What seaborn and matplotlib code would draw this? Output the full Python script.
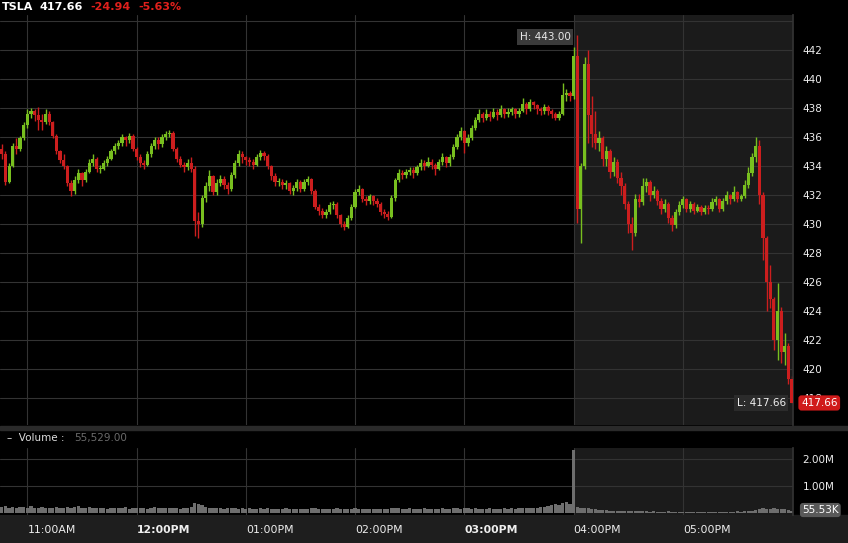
import numpy as np
import pandas as pd
import seaborn as sns
import matplotlib
matplotlib.use('Agg')
import matplotlib.pyplot as plt
from matplotlib.patches import Rectangle
from matplotlib.transforms import blended_transform_factory

# header values
ticker = 'TSLA'
last_price = 417.66
change = '-24.94'
change_pct = '-5.63%'
day_high = 443.00
day_low = 417.66
volume_now = '55,529.00'
volume_badge = '55.53K'

# 2-minute candles from 10:45 to 18:00 (regular session ends at 16:00)
first_open = 435.2
close = [
    434.8, 432.9, 434.0, 435.4, 435.2, 435.9, 436.8, 437.6, 437.8, 437.5,
    437.2, 437.0, 437.6, 437.0, 436.1, 435.0, 434.4, 434.0, 432.8, 432.3,
    433.0, 433.5, 433.0, 433.6, 434.2, 434.5, 433.8, 433.8, 434.2, 434.5,
    435.0, 435.4, 435.6, 436.0, 435.8, 436.1, 435.2, 434.6, 434.2, 434.1,
    434.8, 435.4, 435.8, 435.5, 436.0, 436.2, 436.3, 435.2, 434.5, 434.1,
    433.9, 434.2, 433.8, 430.2, 430.0, 431.8, 432.6, 433.3, 432.2, 432.8,
    433.1, 432.7, 432.4, 433.4, 434.2, 434.8, 434.6, 434.4, 434.3, 434.1,
    434.6, 434.9, 434.7, 434.0, 433.3, 432.9, 432.9, 432.7, 432.8, 432.3,
    432.5, 432.9, 432.4, 432.9, 433.1, 432.3, 431.2, 430.9, 430.6, 430.8,
    431.3, 431.4, 430.6, 430.0, 429.8, 430.4, 431.2, 432.2, 432.4, 431.7,
    431.6, 431.9, 431.6, 431.4, 430.8, 430.7, 430.5, 431.8, 433.0, 433.5,
    433.4, 433.6, 433.7, 433.5, 433.9, 434.2, 434.0, 434.3, 434.1, 433.8,
    434.3, 434.6, 434.2, 434.6, 435.3, 436.0, 436.4, 435.6, 435.9, 436.6,
    437.2, 437.6, 437.3, 437.6, 437.4, 437.7, 437.5, 437.9, 437.6, 437.7,
    437.9, 437.6, 437.8, 438.3, 437.9, 438.4, 438.2, 437.9, 437.8, 438.1,
    437.8, 437.6, 437.3, 437.6, 438.9, 439.0, 438.8, 441.6, 431.0, 434.0,
    441.0, 437.5, 436.2, 435.6, 435.9, 434.5, 435.0, 433.6, 434.3, 433.2,
    432.6, 431.4, 430.0, 429.4, 431.7, 431.5, 432.6, 432.9, 432.0, 432.3,
    431.6, 431.0, 431.4, 430.4, 429.9, 430.8, 431.3, 431.7, 431.0, 431.4,
    430.9, 431.2, 430.8, 431.1, 431.0, 431.5, 431.7, 431.0, 431.6, 432.0,
    431.7, 432.2, 431.7, 431.9, 432.7, 433.5, 434.6, 435.4, 432.0, 429.0,
    426.0, 424.8, 422.0, 424.0, 421.2, 421.6, 419.3, 417.66,
]
high = [
    435.5, 435.0, 434.2, 435.6, 435.9, 436.1, 437.0, 437.9, 438.0, 437.9,
    438.1, 437.6, 437.9, 437.8, 437.1, 436.2, 435.1, 434.8, 434.1, 433.0,
    433.3, 433.8, 433.6, 433.8, 434.5, 434.8, 434.6, 434.1, 434.4, 434.7,
    435.2, 435.6, 435.8, 436.2, 436.1, 436.3, 436.2, 435.3, 434.8, 434.4,
    435.0, 435.6, 436.0, 436.0, 436.2, 436.4, 436.5, 436.4, 435.3, 434.7,
    434.3, 434.5, 434.6, 434.0, 430.8, 432.0, 432.9, 433.7, 433.4, 433.1,
    433.4, 433.3, 432.9, 433.6, 434.4, 435.1, 435.0, 434.7, 434.6, 434.5,
    434.8, 435.1, 435.0, 434.8, 434.1, 433.5, 433.2, 433.1, 433.0, 432.9,
    432.7, 433.1, 433.0, 433.1, 433.3, 433.2, 432.4, 431.4, 431.1, 431.0,
    431.5, 431.6, 431.5, 430.7, 430.2, 430.6, 431.4, 432.4, 432.7, 432.5,
    431.9, 432.1, 432.0, 431.8, 431.5, 431.0, 430.9, 432.0, 433.2, 433.8,
    433.7, 433.8, 433.9, 433.9, 434.1, 434.5, 434.4, 434.6, 434.5, 434.2,
    434.5, 434.9, 434.7, 434.8, 435.5, 436.2, 436.7, 436.5, 436.2, 436.8,
    437.4, 437.9, 437.7, 437.9, 437.8, 438.0, 437.9, 438.2, 438.0, 438.0,
    438.1, 438.0, 438.0, 438.7, 438.4, 438.6, 438.5, 438.3, 438.1, 438.3,
    438.2, 437.9, 437.7, 437.8, 439.7, 439.3, 439.2, 442.2, 443.0, 434.2,
    441.5, 442.0, 438.8, 437.8, 436.4, 436.1, 435.4, 435.2, 434.6, 434.5,
    433.6, 432.8, 431.6, 430.5, 432.1, 432.1, 433.2, 433.2, 433.0, 432.6,
    432.4, 431.8, 431.7, 431.5, 430.6, 431.0, 431.6, 431.9, 431.8, 431.6,
    431.5, 431.4, 431.3, 431.3, 431.3, 431.8, 431.9, 431.8, 431.8, 432.3,
    432.1, 432.6, 432.3, 432.1, 433.0, 433.9, 434.9, 436.0, 435.8, 432.2,
    429.2, 427.2, 425.0, 425.9, 424.3, 422.5, 421.8, 419.5,
]
low = [
    434.5, 432.7, 432.8, 433.9, 434.8, 435.0, 435.8, 436.6, 437.3, 437.1,
    436.5, 436.5, 436.9, 436.8, 435.9, 434.8, 434.2, 433.8, 432.6, 431.9,
    432.1, 432.8, 432.6, 432.9, 433.5, 434.0, 433.6, 433.5, 433.7, 434.0,
    434.4, 434.8, 435.2, 435.4, 435.4, 435.6, 435.0, 434.4, 433.9, 433.8,
    434.0, 434.6, 435.2, 435.2, 435.3, 435.8, 436.0, 435.0, 434.3, 433.9,
    433.6, 433.7, 433.6, 429.2, 429.0, 429.8, 431.5, 432.3, 432.0, 432.0,
    432.6, 432.4, 432.1, 432.3, 433.2, 434.0, 434.2, 434.1, 434.0, 433.8,
    434.0, 434.4, 434.4, 433.8, 433.0, 432.6, 432.6, 432.4, 432.4, 432.1,
    432.0, 432.3, 432.2, 432.3, 432.7, 432.1, 431.0, 430.6, 430.4, 430.4,
    430.7, 431.0, 430.4, 429.8, 429.6, 429.7, 430.3, 431.1, 432.0, 431.5,
    431.3, 431.4, 431.3, 431.2, 430.6, 430.4, 430.3, 430.4, 431.6, 432.9,
    433.1, 433.2, 433.4, 433.2, 433.4, 433.7, 433.7, 433.9, 433.8, 433.4,
    433.7, 434.1, 433.9, 434.0, 434.5, 435.2, 435.8, 434.9, 435.4, 435.8,
    436.5, 437.0, 437.0, 437.2, 437.1, 437.3, 437.2, 437.4, 437.3, 437.4,
    437.5, 437.3, 437.4, 437.7, 437.6, 437.8, 437.9, 437.6, 437.5, 437.6,
    437.5, 437.3, 437.2, 437.2, 437.5, 438.5, 438.5, 438.6, 430.1, 428.7,
    433.8, 435.6, 435.3, 435.2, 435.0, 434.0, 434.0, 433.2, 433.3, 432.8,
    432.0, 431.0, 429.4, 428.2, 429.2, 431.2, 431.3, 432.2, 431.6, 431.8,
    431.3, 430.7, 430.8, 430.1, 429.5, 429.7, 430.6, 431.1, 430.8, 430.8,
    430.7, 430.8, 430.6, 430.7, 430.7, 430.9, 431.3, 430.8, 430.9, 431.4,
    431.4, 431.6, 431.5, 431.6, 431.8, 432.5, 433.3, 434.3, 431.4, 427.5,
    424.0, 424.2, 421.3, 420.6, 420.4, 420.3, 419.0, 417.66,
]
volume_k = [
    220, 260, 200, 240, 180, 210, 230, 190, 250, 200,
    180, 210, 170, 200, 190, 220, 180, 170, 230, 200,
    240, 260, 200, 180, 210, 190, 170, 200, 180, 160,
    190, 170, 200, 180, 220, 160, 190, 200, 180, 170,
    160, 190, 210, 180, 170, 200, 190, 180, 170, 160,
    180, 200, 240, 380, 330, 280, 220, 200, 180, 190,
    170, 160, 180, 200, 170, 160, 180, 150, 170, 160,
    150, 170, 160, 180, 150, 140, 160, 150, 170, 150,
    140, 150, 160, 140, 150, 170, 180, 160, 150, 140,
    150, 160, 170, 150, 160, 140, 150, 170, 160, 150,
    140, 150, 160, 150, 140, 150, 160, 190, 180, 170,
    160, 150, 170, 160, 150, 160, 170, 150, 160, 150,
    160, 170, 150, 160, 180, 170, 160, 180, 170, 160,
    170, 160, 150, 160, 170, 150, 160, 150, 170, 160,
    170, 160, 180, 190, 170, 180, 200, 190, 220, 240,
    260, 280, 320, 300, 380, 420, 350, 2350, 210, 190,
    170, 180, 150, 130, 120, 110, 100, 90, 80, 90,
    70, 80, 70, 60, 80, 70, 60, 60, 50, 60,
    50, 40, 50, 60, 40, 50, 40, 40, 50, 40,
    40, 50, 40, 40, 50, 40, 40, 40, 50, 40,
    50, 40, 60, 50, 60, 70, 80, 120, 160, 180,
    150, 140, 170, 130, 160, 140, 120, 56,
]

price_ticks = [418, 420, 422, 424, 426, 428, 430, 432, 434, 436, 438, 440, 442, 444]
hour_labels = ['11:00AM', '12:00PM', '01:00PM', '02:00PM', '03:00PM', '04:00PM', '05:00PM']
bold_labels = ['12:00PM', '03:00PM']
vol_ticks = [1.0, 2.0]
vol_labels = ['1.00M', '2.00M']

W, H = 848, 543
SHADE = '#1b1b1b'
GRID = '#333333'
UP = '#78bf1f'
DOWN = '#cc1e1e'
TXT = '#eeeeee'

sns.set_theme(style='dark', rc={'axes.facecolor': 'black', 'figure.facecolor': 'black',
                                'grid.color': GRID, 'text.color': TXT,
                                'xtick.color': TXT, 'ytick.color': TXT})
plt.rcParams['font.family'] = ['DejaVu Sans']

n = min(len(close), len(high), len(low), len(volume_k))
df = pd.DataFrame({'close': close[:n], 'high': high[:n], 'low': low[:n],
                   'volume': np.array(volume_k[:n]) / 1000.0})
df['open'] = [first_open] + close[:n - 1]
df['minute'] = np.arange(n) * 2 + 1          # minutes after 10:45, candle centre
df['up'] = df['close'] >= df['open']
hour_x = [15 + 60 * k for k in range(len(hour_labels))]
x_end = 435.5
ah_start = 315                                # 04:00PM


def fx(x):
    return x / W


def fy(y):
    return 1 - y / H


fig = plt.figure(figsize=(W / 100, H / 100), dpi=100)
ax_p = fig.add_axes([0, fy(425), 793 / W, (425 - 15) / H])
ax_v = fig.add_axes([0, fy(515), 793 / W, (515 - 448) / H])

# bands outside the axes
fig.add_artist(Rectangle((0, 0), 1, 28 / H, transform=fig.transFigure, color='#1e1e1e', zorder=-1))
fig.add_artist(Rectangle((0, fy(430)), 1, 4 / H, transform=fig.transFigure, color='#2a2a2a', zorder=-1))

# price panel
ax_p.axvspan(ah_start, x_end, color=SHADE, lw=0, zorder=0)
cols = np.where(df['up'], UP, DOWN)
ax_p.vlines(df['minute'], df['low'], df['high'], colors=cols, lw=1.0, zorder=2)
body_lo = np.minimum(df['open'], df['close'])
body_h = np.maximum((df['close'] - df['open']).abs(), 0.08)
ax_p.bar(df['minute'], body_h, bottom=body_lo, width=1.75, color=cols, lw=0, zorder=3)
ax_p.set_xlim(0, x_end)
ax_p.set_ylim(416.14, 444.41)
ax_p.set_xticks(hour_x)
ax_p.set_yticks(price_ticks, [str(p) if p < 444 else '' for p in price_ticks])
ax_p.yaxis.tick_right()
ax_p.tick_params(axis='x', labelbottom=False, length=0)
ax_p.tick_params(axis='y', length=0, pad=7, labelsize=7.5, labelcolor=TXT)
ax_p.grid(True, color=GRID, lw=0.8)
ax_p.set_axisbelow(True)
for s in ax_p.spines.values():
    s.set_visible(False)
ax_p.spines['right'].set_visible(True)
ax_p.spines['right'].set_color(GRID)

# high / low / last price tags
ax_p.text(313.5, day_high - 0.1, 'H: %.2f' % day_high, ha='right', va='center', fontsize=7.5,
          color='#e8e8e8', zorder=5,
          bbox=dict(boxstyle='square,pad=0.25', fc='#3a3a3a', ec='none'))
ax_p.text(431.5, day_low, 'L: %.2f' % day_low, ha='right', va='center', fontsize=7.5,
          color='#f0f0f0', zorder=5,
          bbox=dict(boxstyle='square,pad=0.25', fc='#2b2b2b', ec='none'))
tr = blended_transform_factory(ax_p.transAxes, ax_p.transData)
ax_p.text(1 + 8 / 793, last_price, '%.2f' % last_price, transform=tr, ha='left', va='center',
          fontsize=7.5, color='white', clip_on=False, zorder=6,
          bbox=dict(boxstyle='round,pad=0.25,rounding_size=0.3', fc='#d01a1a', ec='none'))

# volume panel
ax_v.axvspan(ah_start, x_end, color=SHADE, lw=0, zorder=0)
sns.barplot(data=df, x='minute', y='volume', native_scale=True, color='#6e6e6e', saturation=1,
            width=0.9, errorbar=None, linewidth=0, ax=ax_v, zorder=2)
ax_v.set_xlim(0, x_end)
ax_v.set_ylim(-0.074, 2.407)
ax_v.set_xlabel('')
ax_v.set_ylabel('')
ax_v.set_xticks(hour_x, hour_labels)
for lbl in ax_v.get_xticklabels():
    lbl.set_ha('left')
    if lbl.get_text() in bold_labels:
        lbl.set_fontweight('bold')
ax_v.set_yticks(vol_ticks, vol_labels)
ax_v.yaxis.tick_right()
ax_v.tick_params(axis='x', length=0, pad=7, labelsize=7.8, labelcolor=TXT)
ax_v.tick_params(axis='y', length=0, pad=7, labelsize=7.5, labelcolor=TXT)
ax_v.grid(True, color=GRID, lw=0.8)
ax_v.set_axisbelow(True)
for s in ax_v.spines.values():
    s.set_visible(False)
ax_v.spines['right'].set_visible(True)
ax_v.spines['right'].set_color(GRID)
trv = blended_transform_factory(ax_v.transAxes, ax_v.transData)
ax_v.text(1 + 9 / 793, 0.11, volume_badge, transform=trv, ha='left', va='center', fontsize=7.5,
          color='white', clip_on=False, zorder=6,
          bbox=dict(boxstyle='round,pad=0.2,rounding_size=0.3', fc='#595959', ec='none'))

# header and volume caption
fig.text(fx(2), fy(7), ticker, color='white', fontsize=8, fontweight='bold', va='center')
fig.text(fx(40), fy(7), '%.2f' % last_price, color='white', fontsize=8, fontweight='bold', va='center')
fig.text(fx(90), fy(7), change, color='#e0201c', fontsize=8, fontweight='bold', va='center')
fig.text(fx(138), fy(7), change_pct, color='#e0201c', fontsize=8, fontweight='bold', va='center')
fig.text(fx(7), fy(438), '–  Volume :', color='#dddddd', fontsize=7.5, va='center')
fig.text(fx(74), fy(438), volume_now, color='#6b6b6b', fontsize=7.5, va='center')

fig.savefig('out.png', dpi=100, facecolor='black')
